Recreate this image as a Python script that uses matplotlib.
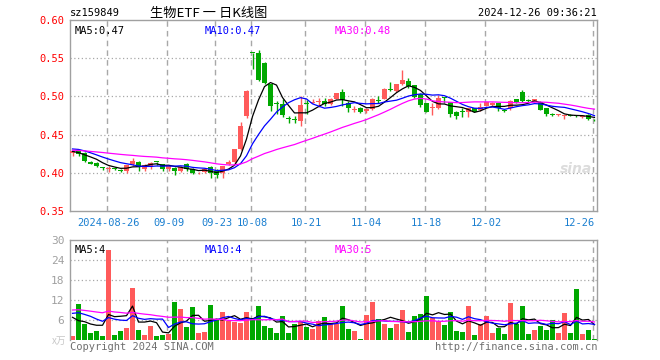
import numpy as np
import pandas as pd
import matplotlib
matplotlib.use("Agg")
import matplotlib.pyplot as plt

# ── 1. DATA (2024-08-16 .. 2024-12-26, 88 sessions) ─────────────────────────
open_ = [.426, .429, .426, .414, .4126, .407, .405, .406, .404, .402,
         .411, .414, .4044, .4074, .4144, .4109, .4044, .4065, .4022, .4117,
         .4052, .3991, .4009, .4078, .4022, .3991, .4109, .4139, .4305, .4743,
         .557, .557, .544, .5157, .491, .4904, .4705, .470, .4678, .4909,
         .4917, .4926, .4939, .4896, .497, .5057, .4909, .4824, .4852, .4809,
         .4839, .4939, .4961, .5096, .507, .5157, .5204, .5148, .5026, .4909,
         .4852, .4843, .4987, .493, .480, .4805, .480, .4843, .4822, .4878,
         .4887, .4909, .4812, .4843, .4961, .5061, .4945, .4939, .493, .4843,
         .4762, .4755, .4742, .4755, .4742, .4730, .4760, .4690]
high = [.430, .430, .427, .415, .414, .408, .409, .407, .405, .410,
        .420, .415, .411, .414, .4144, .411, .409, .407, .409, .413,
        .406, .401, .406, .409, .405, .409, .4174, .431, .4665, .508,
        .557, .5613, .545, .5157, .494, .496, .4743, .4743, .5004, .4956,
        .4961, .4974, .4974, .4974, .505, .5091, .4939, .4869, .4861, .4852,
        .4974, .5004, .511, .5187, .5165, .5344, .5235, .515, .5039, .491,
        .4909, .5017, .4996, .493, .481, .4843, .4852, .4848, .4909, .493,
        .493, .491, .4826, .4952, .497, .5083, .4961, .4965, .4935, .4848,
        .478, .4775, .4762, .4775, .4755, .4750, .4768, .4698]
low = [.422, .422, .414, .411, .408, .404, .401, .404, .401, .400,
       .409, .403, .402, .4044, .4096, .403, .4022, .3965, .401, .4022,
       .3987, .398, .400, .3935, .3935, .3935, .410, .412, .430, .472,
       .536, .520, .5157, .4809, .4765, .4735, .4656, .4656, .4613, .4765,
       .4909, .4861, .4874, .4887, .4961, .4874, .4791, .4791, .4787, .4787,
       .4817, .4917, .4961, .5074, .506, .515, .5104, .4974, .4865, .479,
       .4756, .483, .4909, .4735, .4704, .4735, .4735, .4795, .4809, .487,
       .4874, .4809, .4795, .4822, .4917, .4922, .4926, .493, .482, .4745,
       .4745, .474, .470, .4740, .4725, .4715, .4695, .4680]
close = [.429, .424, .415, .412, .4087, .4065, .406, .405, .403, .4096,
         .415, .4074, .4096, .413, .4139, .4044, .4087, .4022, .4078, .4044,
         .400, .400, .4052, .400, .3965, .4087, .4139, .4305, .4609, .507,
         .5565, .522, .5178, .4874, .4904, .4752, .470, .4687, .4883, .4904,
         .4926, .493, .4896, .497, .504, .4952, .4852, .4826, .4791, .4839,
         .4961, .4935, .510, .509, .5157, .5213, .5135, .4996, .4887, .480,
         .4856, .4974, .4983, .4765, .4748, .480, .4843, .480, .4865, .4922,
         .4909, .4843, .4809, .4939, .4926, .4939, .4943, .4961, .4825, .4765,
         .4755, .4760, .4750, .4750, .4738, .4742, .4710, .4685]
volume = [1.3, 10.9, 4.9, 2.2, 2.8, 1.3, 27.1, 1.6, 2.8, 3.7,
          15.7, 3.1, 1.6, 4.3, 1.3, 1.6, 1.9, 11.5, 9.4, 4.0,
          10.0, 2.2, 2.5, 10.6, 6.1, 8.5, 5.8, 5.5, 5.2, 8.5,
          6.5, 10.3, 4.3, 3.6, 2.2, 7.3, 2.2, 4.9, 5.6, 3.9,
          3.2, 5.7, 7.0, 4.8, 4.9, 10.3, 3.4, 2.8, 0.4, 7.6,
          11.5, 6.4, 4.9, 3.7, 4.9, 9.1, 2.5, 7.3, 7.9, 13.3,
          6.7, 5.8, 4.6, 8.5, 2.8, 2.5, 10.3, 1.6, 4.9, 7.3,
          2.2, 3.7, 1.9, 11.2, 4.9, 10.3, 1.9, 3.1, 4.3, 3.1,
          5.9, 2.2, 8.2, 2.2, 15.4, 1.9, 3.1, 0.4]

# sessions before the visible window -- only used to seed the moving averages
prior_close = [.433, .431, .434, .430, .428, .432, .429, .427, .431, .433,
               .430, .428, .426, .429, .432, .426, .423, .422, .425, .426,
               .430, .434, .437, .436, .435, .432, .429, .426, .424]
prior_volume = [8.5, 11.0, 9.0, 10.5, 8.0, 12.0, 9.5, 7.5, 10.0, 9.0,
                11.5, 8.5, 9.5, 10.0, 8.0, 9.5, 10.5, 9.0, 8.5, 10.0,
                9.0, 10.0, 8.0, 11.0, 8.0, 15.9, 6.4, 5.7, 4.7]

date_labels = ["2024-08-26", "09-09", "09-23", "10-08", "10-21",
               "11-04", "11-18", "12-02", "12-26"]
date_idx = [6, 16, 24, 30, 39, 49, 59, 69, 87]
vol_grid_idx = [16, 30, 39, 49, 59, 69, 87]

# ── 2. MOVING AVERAGES ──────────────────────────────────────────────────────
npre = len(prior_close)
full_c = pd.Series(prior_close + close)
full_v = pd.Series(prior_volume + volume)
ma = {w: full_c.rolling(w).mean().values[npre:] for w in (5, 10, 30)}
vma = {w: full_v.rolling(w).mean().values[npre:] for w in (5, 10, 30)}

o = np.array(open_); h = np.array(high); l = np.array(low); c = np.array(close)
n = len(c)
x = np.arange(n)

# ── 3. PLOT ─────────────────────────────────────────────────────────────────
RED = "#ff5a5a"
GREEN = "#00a800"
GRID = "#a8a8a8"
FRAME = "#a0a0a0"
MONO = "DejaVu Sans Mono"
W, H = 660, 360

up = c >= o
col = np.where(up, RED, GREEN)

fig = plt.figure(figsize=(6.6, 3.6), dpi=100)
fig.patch.set_facecolor("white")


def box(left, top, right, bottom):
    return [left / W, 1 - bottom / H, (right - left) / W, (bottom - top) / H]


def ftext(px, py, s, **kw):
    fig.text(px / W, 1 - py / H, s, **kw)


ax1 = fig.add_axes(box(70, 20, 597, 211))
ax2 = fig.add_axes(box(70, 240, 597, 340))
XL = (-0.42, 87.42)

# — price panel —
for yv in (0.40, 0.45, 0.50, 0.55):
    ax1.axhline(yv, color=GRID, lw=0.9, ls=(0, (1, 2)), zorder=0)
for i in date_idx:
    ax1.axvline(i - 0.25, color=GRID, lw=1, ls=(0, (4, 3)), zorder=0)

ax1.vlines(x, l, h, colors=col, lw=1, zorder=2)
body_lo = np.minimum(o, c)
body_h = np.maximum(np.abs(c - o), 0.0012)
ax1.bar(x, body_h, bottom=body_lo, width=0.72, color=col, lw=0, zorder=3)

ax1.plot(x, ma[5], color="black", lw=0.9, zorder=4)
ax1.plot(x, ma[10], color="#0000ff", lw=0.9, zorder=4)
ax1.plot(x, ma[30], color="#ff00ff", lw=0.9, zorder=4)

ax1.set_xlim(*XL)
ax1.set_ylim(0.35, 0.60)
ax1.set_yticks([0.35, 0.40, 0.45, 0.50, 0.55, 0.60])
ax1.set_yticklabels([f"{v:.2f}" for v in ax1.get_yticks()],
                    color="#ff0000", fontsize=7.5, family=MONO)
ax1.set_xticks(date_idx)
ax1.set_xticklabels(date_labels, color="#1a7fd0", fontsize=7.5, family=MONO)
ax1.get_xticklabels()[-1].set_ha("right")
ax1.tick_params(length=0, pad=4)
ax1.tick_params(axis="x", pad=5)
for s in ax1.spines.values():
    s.set_color(FRAME)
    s.set_linewidth(1)

ax1.text(0.009, 0.97, f"MA5:{ma[5][-1]:.2f}", transform=ax1.transAxes,
         color="black", fontsize=7.5, family=MONO, va="top")
ax1.text(0.256, 0.97, f"MA10:{ma[10][-1]:.2f}", transform=ax1.transAxes,
         color="#0000ff", fontsize=7.5, family=MONO, va="top")
ax1.text(0.503, 0.97, f"MA30:{ma[30][-1]:.2f}", transform=ax1.transAxes,
         color="#ff00ff", fontsize=7.5, family=MONO, va="top")
ax1.text(0.99, 0.2, "sina", transform=ax1.transAxes, color="#dcdcdc",
         fontsize=10, fontstyle="italic", fontweight="bold", ha="right")

# — volume panel —
for yv in (6, 12, 18, 24):
    ax2.axhline(yv, color=GRID, lw=0.9, ls=(0, (1, 2)), zorder=0)
for i in vol_grid_idx:
    ax2.axvline(i - 0.25, color=GRID, lw=1, ls=(0, (4, 3)), zorder=0)
ax2.bar(x, volume, width=0.8, color=col, lw=0, zorder=2)
ax2.plot(x, vma[5], color="black", lw=0.9, zorder=3)
ax2.plot(x, vma[10], color="#0000ff", lw=0.9, zorder=3)
ax2.plot(x, vma[30], color="#ff00ff", lw=0.9, zorder=3)
ax2.set_xlim(*XL)
ax2.set_ylim(0, 30)
ax2.set_yticks([6, 12, 18, 24, 30])
ax2.set_yticklabels(["6", "12", "18", "24", "30"], color="#a0a0a0",
                    fontsize=8, family=MONO)
ax2.set_xticks([])
ax2.tick_params(length=0, pad=4)
for k, s in ax2.spines.items():
    s.set_color(FRAME)
    s.set_linewidth(1)
ax2.spines["bottom"].set_visible(False)

ax2.text(0.009, 0.95, f"MA5:{int(vma[5][-1])}", transform=ax2.transAxes,
         color="black", fontsize=7.5, family=MONO, va="top")
ax2.text(0.256, 0.95, f"MA10:{int(vma[10][-1])}", transform=ax2.transAxes,
         color="#0000ff", fontsize=7.5, family=MONO, va="top")
ax2.text(0.503, 0.95, f"MA30:{int(vma[30][-1])}", transform=ax2.transAxes,
         color="#ff00ff", fontsize=7.5, family=MONO, va="top")

# — header / footer text —
ftext(70, 13, "sz159849", fontsize=7.5, family=MONO, va="center")
ftext(150, 13, "生物ETF 一 日K线图", fontsize=9.5,
      family=["Noto Sans CJK SC", "DejaVu Sans"], va="center")
ftext(597, 13, "2024-12-26 09:36:21", fontsize=7.5, family=MONO,
      va="center", ha="right")
ftext(66, 341, "x万", fontsize=7, color="#c8c8c8",
      family=["Noto Sans CJK SC", "DejaVu Sans"], va="center", ha="right")
ftext(70, 347, "Copyright 2024 SINA.COM", fontsize=7.5, family=MONO,
      color="#707070", va="center")
ftext(597, 347, "http://finance.sina.com.cn", fontsize=7.5, family=MONO,
      color="#707070", va="center", ha="right")

fig.savefig("out.png", dpi=100, facecolor="white")
plt.close(fig)
